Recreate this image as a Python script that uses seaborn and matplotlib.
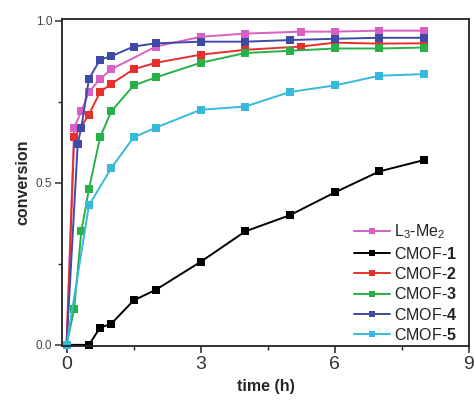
import matplotlib
matplotlib.use("Agg")
import matplotlib.pyplot as plt
import seaborn as sns
import pandas as pd
from matplotlib.ticker import MultipleLocator

sns.set_theme(style="white")
plt.rcParams['font.family'] = ['Liberation Sans', 'DejaVu Sans']
plt.rcParams['mathtext.fontset'] = 'custom'
plt.rcParams['mathtext.rm'] = 'Liberation Sans'
plt.rcParams['mathtext.bf'] = 'Liberation Sans:bold'

# data
t_L3 = [0, 0.17, 0.33, 0.5, 0.75, 1, 2, 3, 4, 5.25, 6, 7, 8]
y_L3 = [0, 0.67, 0.72, 0.78, 0.82, 0.85, 0.92, 0.95, 0.96, 0.966, 0.966, 0.969, 0.969]
t_c1 = [0, 0.5, 0.75, 1, 1.5, 2, 3, 4, 5, 6, 7, 8]
y_c1 = [0, 0, 0.053, 0.065, 0.137, 0.17, 0.256, 0.35, 0.40, 0.47, 0.535, 0.57]
t_c2 = [0, 0.17, 0.5, 0.75, 1, 1.5, 2, 3, 4, 5.25, 6, 7, 8]
y_c2 = [0, 0.64, 0.71, 0.78, 0.805, 0.85, 0.87, 0.895, 0.91, 0.92, 0.932, 0.929, 0.93]
t_c3 = [0, 0.17, 0.33, 0.5, 0.75, 1, 1.5, 2, 3, 4, 5, 6, 7, 8]
y_c3 = [0, 0.11, 0.35, 0.48, 0.64, 0.72, 0.80, 0.825, 0.87, 0.90, 0.907, 0.914, 0.914, 0.917]
t_c4 = [0, 0.25, 0.33, 0.5, 0.75, 1, 1.5, 2, 3, 4, 5, 6, 7, 8]
y_c4 = [0, 0.62, 0.67, 0.82, 0.88, 0.89, 0.92, 0.93, 0.935, 0.935, 0.94, 0.944, 0.947, 0.947]
t_c5 = [0, 0.5, 1, 1.5, 2, 3, 4, 5, 6, 7, 8]
y_c5 = [0, 0.43, 0.545, 0.64, 0.67, 0.725, 0.735, 0.78, 0.80, 0.83, 0.835]

labels = ["L$_3$-Me$_2$", "CMOF-$\\mathbf{1}$", "CMOF-$\\mathbf{2}$",
          "CMOF-$\\mathbf{3}$", "CMOF-$\\mathbf{4}$", "CMOF-$\\mathbf{5}$"]
colors = ["#d85fc4", "#000000", "#e8302a", "#27b148", "#3e4aa6", "#36b9da"]
series = [(t_L3, y_L3), (t_c1, y_c1), (t_c2, y_c2), (t_c3, y_c3), (t_c4, y_c4), (t_c5, y_c5)]

fig = plt.figure(figsize=(4.74, 4.04), dpi=100)
ax = fig.add_axes([0.131, 0.144, 0.858, 0.809])

for (t, y), lab, c in zip(series, labels, colors):
    df = pd.DataFrame({"time": t, "conv": y})
    sns.lineplot(data=df, x="time", y="conv", ax=ax, color=c, marker="s",
                 markersize=6, markeredgewidth=0, linewidth=1.4, label=lab,
                 clip_on=False)

ax.set_xlim(-0.1, 9)
ax.set_ylim(-0.003, 1.005)
ax.xaxis.set_minor_locator(MultipleLocator(1.5))
ax.yaxis.set_minor_locator(MultipleLocator(0.25))
ax.set_xticks([0, 3, 6, 9])
ax.set_yticks([0, 0.5, 1.0])
ax.set_yticklabels(["0.0", "0.5", "1.0"])

ax.tick_params(axis="x", which="major", direction="out", length=5, width=1.2,
               labelsize=14, colors="#333333", bottom=True, pad=2)
ax.tick_params(axis="y", which="major", direction="out", length=5, width=1.2,
               labelsize=8.5, colors="#444444", left=True, pad=2)
ax.tick_params(which="minor", direction="out", length=3, width=1.0,
               bottom=True, left=True)
for s in ax.spines.values():
    s.set_color("#222222")
    s.set_linewidth(1.3)

ax.set_xlabel("time (h)", fontsize=11.5, fontweight="bold", labelpad=5)
ax.set_ylabel("conversion", fontsize=11.5, fontweight="bold", labelpad=4)

leg = ax.legend(loc="lower right", frameon=False, fontsize=11.5,
                handlelength=2.2, handletextpad=0.3, labelspacing=0.27,
                markerscale=0.75, bbox_to_anchor=(1.0, -0.025), borderaxespad=0.3)
for txt in leg.get_texts():
    txt.set_color("#222222")

fig.savefig("out.png", dpi=100, facecolor="white")
